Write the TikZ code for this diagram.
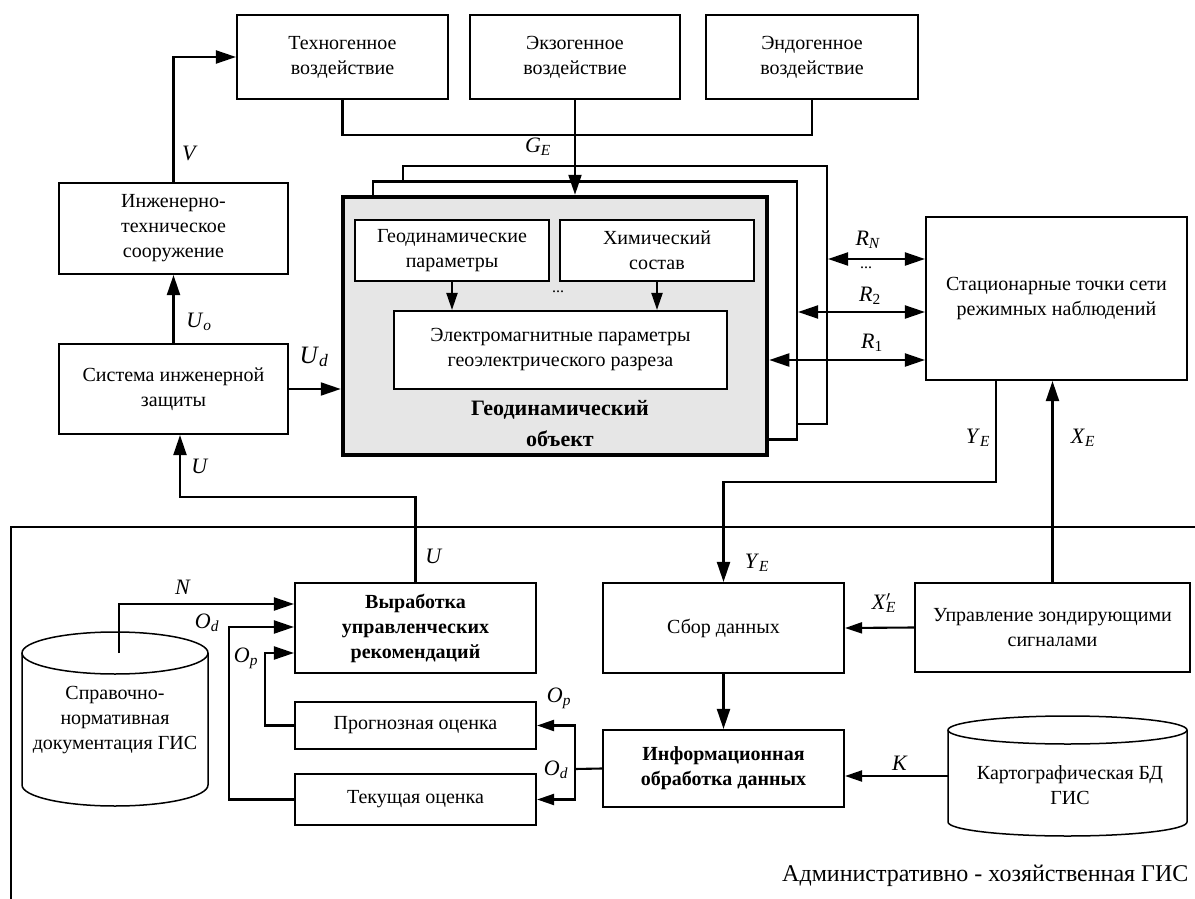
\documentclass[tikz,border=0pt]{standalone}
\usepackage{fontspec}
\setmainfont{Liberation Serif}
\usetikzlibrary{arrows.meta}
\definecolor{geogray}{RGB}{230,230,230}
\newcommand{\sg}[2]{\textit{#1}\textsubscript{\textit{#2}}}

\begin{document}
\begin{tikzpicture}[
    x=1pt,
    y=-1pt,
    line cap=butt,
    every node/.style={font=\fontsize{20}{25}\selectfont},
    box/.style={draw, line width=2.1pt, fill=white, align=center, inner sep=2pt},
    bsize/.style 2 args={minimum width=#1pt, minimum height=#2pt},
    lbl/.style={font=\fontsize{22}{26}\selectfont, inner sep=0pt},
    wire/.style={line width=2.1pt},
    arr/.style={line width=2.1pt, -{Triangle[length=20pt,width=13pt]}},
    sarr/.style={line width=2.1pt, -{Triangle[length=17pt,width=11pt]}},
    darr/.style={line width=2.1pt, {Triangle[length=20pt,width=13pt]}-{Triangle[length=20pt,width=13pt]}}
]
\useasboundingbox (0,0) rectangle (1195,899);

% External impacts
\node[box, bsize={211}{84}] (tech) at (342.5,57) {Техногенное\\воздействие};
\node[box, bsize={210}{84}] (exo)  at (575,57)   {Экзогенное\\воздействие};
\node[box, bsize={212}{84}] (endo) at (812,57)   {Эндогенное\\воздействие};

% Engineering side
\node[box, bsize={229}{91}] (eng)  at (173.5,228.5) {Инженерно-\\техническое\\сооружение};
\node[box, bsize={229}{90}] (prot) at (173.5,389)   {Система инженерной\\защиты};

% Stacked layers of the object
\foreach \dx/\dy/\n in {60/-31/geoC,30/-15.5/geoB}{
    \node[draw, line width=2.1pt, fill=white, bsize={424}{258}] (\n) at (555+\dx,326+\dy) {};
}
\node[draw, line width=4.5pt, fill=geogray, bsize={424}{258}] (geo) at (555,326) {};

% Inside the object
\node[box, bsize={194}{61}] (geod) at (452,250.5) {Геодинамические\\параметры};
\node[box, bsize={194}{61}] (chem) at (657,250.5) {Химический\\состав};
\node[box, bsize={333}{78}] (em)   at (560.5,350) {Электромагнитные параметры\\геоэлектрического разреза};
\node[font=\fontsize{16}{16}\selectfont] (dots) at (558,292) {...};
\node[font=\bfseries\fontsize{22}{31}\selectfont, align=center] (geolbl) at (560,424) {Геодинамический\\объект};

\draw[sarr] (geod.south) -- (em.north -| geod.south);
\draw[sarr] (chem.south) -- (em.north -| chem.south);

% Observation network
\node[box, bsize={261}{163}] (stat) at (1056.5,298.5) {Стационарные точки сети\\режимных наблюдений};

% Administrative GIS frame
\draw[line width=1.5pt] (1195,527) -- (11,527) -- (11,899);
\node[anchor=east, font=\fontsize{24}{28}\selectfont] (gis) at (1192,876) {Административно - хозяйственная ГИС};

\node[box, bsize={241}{90}, font=\bfseries\fontsize{20}{25}\selectfont] (rec) at (415.5,628) {Выработка\\управленческих\\рекомендаций};
\node[box, bsize={241}{47}] (prog) at (415.5,725.5) {Прогнозная оценка};
\node[box, bsize={241}{51}] (cur)  at (415.5,799.5) {Текущая оценка};
\node[box, bsize={241}{90}] (coll) at (723.5,628) {Сбор данных};
\node[box, bsize={241}{77}, font=\bfseries\fontsize{20}{25}\selectfont] (proc) at (723.5,768.5) {Информационная\\обработка данных};
\node[box, bsize={275}{89}] (sig)  at (1052.5,627.5) {Управление зондирующими\\сигналами};

% Databases
\draw[line width=1.5pt] (22,653) -- (22,785)
      arc[start angle=180, end angle=360, x radius=93pt, y radius=21pt] -- (208,653);
\draw[line width=1.5pt] (115,653) ellipse [x radius=93pt, y radius=21pt];
\node[align=center] (doc) at (115,720) {Справочно-\\нормативная\\документация ГИС};

\draw[line width=1.5pt] (948,730) -- (948,822)
      arc[start angle=180, end angle=360, x radius=119.5pt, y radius=14pt] -- (1187,730);
\draw[line width=1.5pt] (1067.5,730) ellipse [x radius=119.5pt, y radius=14pt];
\node[align=center] (maptxt) at (1070,785) {Картографическая БД\\ГИС};

% Connectors
\coordinate (bus) at (575,135);
\draw[wire] (tech.south) |- (bus) -| (endo.south);
\draw[arr] (exo.south) -- (exo.south |- geo.north);
\draw[arr] (eng.north) |- (tech.west);
\draw[arr] (prot.north) -- (eng.south);
\draw[arr] (prot.east) -- (prot.east -| geo.west);

\coordinate (ubend) at (180,497);
\draw[arr] (rec.north) |- (ubend) -- (ubend |- prot.south);

\coordinate (rn) at (0,259);
\coordinate (r2) at (0,312);
\coordinate (r1) at (0,360);
\draw[darr] (geoC.east |- rn) -- (stat.west |- rn);
\draw[darr] (geoB.east |- r2) -- (stat.west |- r2);
\draw[darr] (geo.east |- r1) -- (stat.west |- r1);

\coordinate (ye) at (996,482);
\draw[arr] (ye |- stat.south) -- (ye) -| (coll.north);
\draw[arr] (sig.north) -- (sig.north |- stat.south);
\draw[sarr] (sig.west) -- (coll.east);
\draw[arr] (coll.south) -- (proc.north);

\coordinate (map) at (948,776);
\draw[sarr] (map) -- (map -| proc.east);

\coordinate (osplit) at (575,769);
\draw[wire] (proc.west) -- (osplit);
\draw[sarr] (osplit) |- (prog.east);
\draw[sarr] (osplit) |- (cur.east);

\coordinate (opx) at (265,653);
\draw[arr] (prog.west) -| (opx) -- (opx -| rec.west);
\coordinate (odx) at (229,627);
\draw[arr] (cur.west) -| (odx) -- (odx -| rec.west);
\coordinate (docTop) at (119,653);
\coordinate (nbend) at (119,604);
\draw[arr] (docTop) -- (nbend) -- (nbend -| rec.west);

% Signal labels
\node[lbl] (lGE) at (538,147) {\sg{G}{E}};
\node[lbl] (lV)  at (190,153) {\textit{V}};
\node[lbl] (lUo) at (199,322) {\sg{U}{o}};
\node[lbl, font=\fontsize{25}{28}\selectfont] (lUd) at (314,357) {\sg{U}{d}};
\node[lbl] (lU1) at (200,466) {\textit{U}};
\node[lbl] (lU2) at (434,556) {\textit{U}};
\node[lbl] (lRN) at (868,240) {\sg{R}{N}};
\node[font=\fontsize{16}{16}\selectfont] (ldots) at (866,268) {...};
\node[lbl] (lR2) at (870,296) {\textit{R}\textsubscript{2}};
\node[lbl] (lR1) at (872,343) {\textit{R}\textsubscript{1}};
\node[lbl] (lYE1) at (978,438) {\sg{Y}{E}};
\node[lbl] (lXE)  at (1083,438) {\sg{X}{E}};
\node[lbl] (lYE2) at (757,563) {\sg{Y}{E}};
\node[lbl] (lXE2) at (884,603) {\textit{X}\rlap{\textsuperscript{$\prime$}}\textsubscript{\textit{E}}};
\node[lbl] (lK)  at (900,763) {\textit{K}};
\node[lbl] (lOp2) at (559,698) {\sg{O}{p}};
\node[lbl] (lOd2) at (556,770) {\sg{O}{d}};
\node[lbl] (lN)  at (183,587) {\textit{N}};
\node[lbl] (lOd1) at (207,623) {\sg{O}{d}};
\node[lbl] (lOp1) at (246,658) {\sg{O}{p}};

\end{tikzpicture}
\end{document}
